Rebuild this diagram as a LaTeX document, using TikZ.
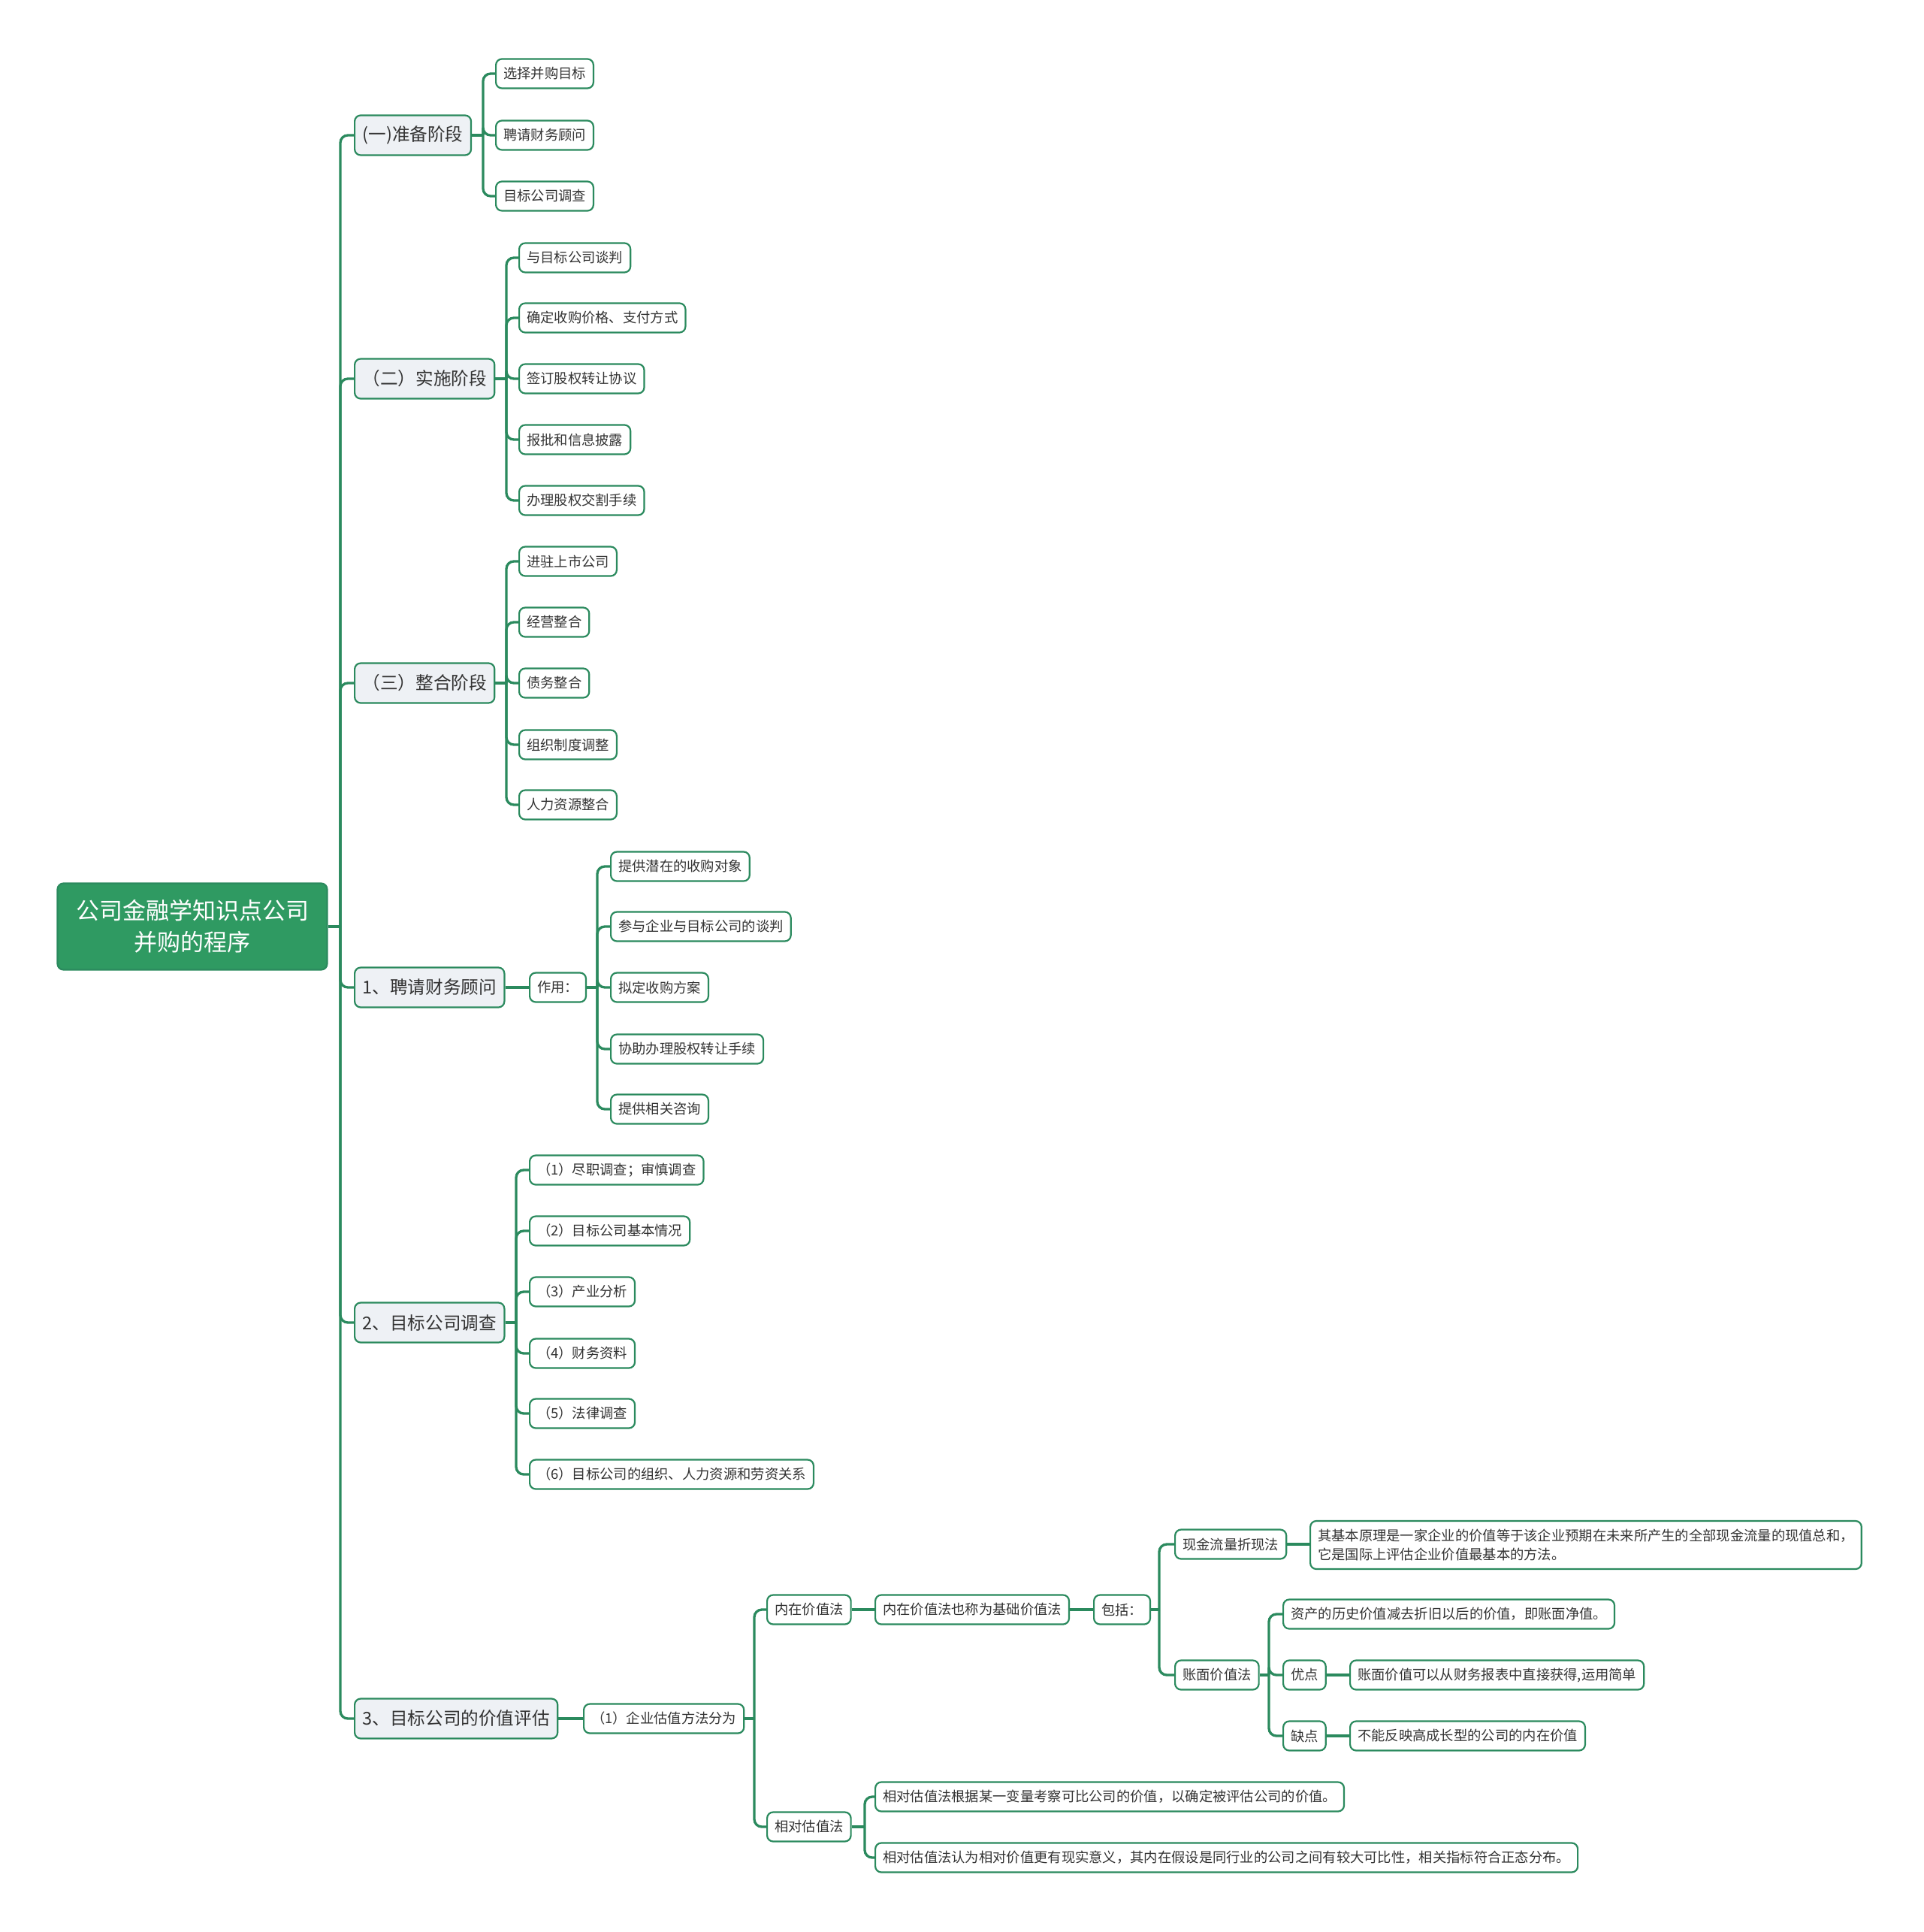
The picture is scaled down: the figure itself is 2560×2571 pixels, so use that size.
\documentclass[tikz,border=0pt]{standalone}
\usepackage{fontspec}
\setmainfont{Noto Sans CJK SC}
\definecolor{lc}{HTML}{2B8A5E}
\definecolor{rootfill}{HTML}{2F9A62}
\definecolor{lvfill}{HTML}{EEF1F5}
\definecolor{txt}{HTML}{333333}
\tikzset{
  conn/.style={draw=lc, line width=3.3pt},
  leaf/.style={draw=lc, line width=2.2pt, fill=white, rounded corners=8pt, minimum height=39pt,
    inner xsep=10pt, inner ysep=0pt, font=\fontsize{18.3}{25}\selectfont, anchor=west, text=txt},
  lvl/.style={leaf, fill=lvfill, minimum height=53pt, inner xsep=10.5pt, font=\fontsize{23.6}{28}\selectfont},
  rootbox/.style={draw=lc, line width=2.2pt, fill=rootfill, rounded corners=8pt, minimum width=359pt,
    minimum height=115pt, text=white, align=center, font=\fontsize{31}{42}\selectfont},
}
\newcommand\brn[3]{%
  \draw[conn] (#1.east) -- (#1.east -| #2);
  \foreach \cc in {#3}{\draw[conn, rounded corners=10pt] (#1.east -| #2) |- (\cc.west);}}
\begin{document}
\begin{tikzpicture}[x=1pt, y=-1pt]
\useasboundingbox (0,0) rectangle (2560,2571);
% root
\node[rootbox] (root) at (256,1233) {公司金融学知识点公司\\并购的程序};
% level 1
\node[lvl] (a) at (471,180) {(一)准备阶段};
\node[lvl] (b) at (471,504) {（二）实施阶段};
\node[lvl] (c) at (471,909) {（三）整合阶段};
\node[lvl] (d) at (471,1314) {1、聘请财务顾问};
\node[lvl] (e) at (471,1760) {2、目标公司调查};
\node[lvl] (f) at (471,2287) {3、目标公司的价值评估};
% group a
\node[leaf] (a1) at (659,98) {选择并购目标};
\node[leaf] (a2) at (659,180) {聘请财务顾问};
\node[leaf] (a3) at (659,261) {目标公司调查};
% group b
\node[leaf] (b1) at (690,343) {与目标公司谈判};
\node[leaf] (b2) at (690,423) {确定收购价格、支付方式};
\node[leaf] (b3) at (690,504) {签订股权转让协议};
\node[leaf] (b4) at (690,585) {报批和信息披露};
\node[leaf] (b5) at (690,666) {办理股权交割手续};
% group c
\node[leaf] (c1) at (690,747) {进驻上市公司};
\node[leaf] (c2) at (690,828) {经营整合};
\node[leaf] (c3) at (690,909) {债务整合};
\node[leaf] (c4) at (690,991) {组织制度调整};
\node[leaf] (c5) at (690,1071) {人力资源整合};
% group d
\node[leaf] (dz) at (704,1314) {作用：};
\node[leaf] (d1) at (812,1153) {提供潜在的收购对象};
\node[leaf] (d2) at (812,1233) {参与企业与目标公司的谈判};
\node[leaf] (d3) at (812,1314) {拟定收购方案};
\node[leaf] (d4) at (812,1396) {协助办理股权转让手续};
\node[leaf] (d5) at (812,1476) {提供相关咨询};
% group e
\node[leaf] (e1) at (704,1557) {（1）尽职调查；审慎调查};
\node[leaf] (e2) at (704,1638) {（2）目标公司基本情况};
\node[leaf] (e3) at (704,1719) {（3）产业分析};
\node[leaf] (e4) at (704,1801) {（4）财务资料};
\node[leaf] (e5) at (704,1881) {（5）法律调查};
\node[leaf] (e6) at (704,1962) {（6）目标公司的组织、人力资源和劳资关系};
% group f
\node[leaf] (f1) at (776,2287) {（1）企业估值方法分为};
\node[leaf] (g) at (1020,2142) {内在价值法};
\node[leaf] (h) at (1020,2431) {相对估值法};
\node[leaf] (g1) at (1164,2142) {内在价值法也称为基础价值法};
\node[leaf] (g2) at (1455,2142) {包括：};
\node[leaf] (k) at (1563,2055) {现金流量折现法};
\node[leaf, align=left, minimum height=64pt] (k1) at (1743,2056) {其基本原理是一家企业的价值等于该企业预期在未来所产生的全部现金流量的现值总和，\\它是国际上评估企业价值最基本的方法。};
\node[leaf] (m) at (1563,2229) {账面价值法};
\node[leaf] (m1) at (1707,2148) {资产的历史价值减去折旧以后的价值，即账面净值。};
\node[leaf] (m2) at (1707,2229) {优点};
\node[leaf] (m3) at (1707,2310) {缺点};
\node[leaf] (m2a) at (1796,2229) {账面价值可以从财务报表中直接获得,运用简单};
\node[leaf] (m3a) at (1796,2310) {不能反映高成长型的公司的内在价值};
\node[leaf] (h1) at (1164,2391) {相对估值法根据某一变量考察可比公司的价值，以确定被评估公司的价值。};
\node[leaf] (h2) at (1164,2472) {相对估值法认为相对价值更有现实意义，其内在假设是同行业的公司之间有较大可比性，相关指标符合正态分布。};
% bar coordinates
\coordinate (xT) at (453,0);
\coordinate (xa) at (643,0);
\coordinate (xb) at (674,0);
\coordinate (xd) at (795,0);
\coordinate (xe) at (687,0);
\coordinate (xf) at (1004,0);
\coordinate (xg) at (1543,0);
\coordinate (xm) at (1689,0);
\coordinate (xh) at (1151,0);
% connectors
\brn{root}{xT}{a,b,c,d,e,f}
\brn{a}{xa}{a1,a2,a3}
\brn{b}{xb}{b1,b2,b3,b4,b5}
\brn{c}{xb}{c1,c2,c3,c4,c5}
\draw[conn] (d.east) -- (dz.west);
\brn{dz}{xd}{d1,d2,d3,d4,d5}
\brn{e}{xe}{e1,e2,e3,e4,e5,e6}
\draw[conn] (f.east) -- (f1.west);
\brn{f1}{xf}{g,h}
\draw[conn] (g.east) -- (g1.west);
\draw[conn] (g1.east) -- (g2.west);
\brn{g2}{xg}{k,m}
\draw[conn] (k.east) -- (k.east -| k1.west);
\brn{m}{xm}{m1,m2,m3}
\draw[conn] (m2.east) -- (m2a.west);
\draw[conn] (m3.east) -- (m3a.west);
\brn{h}{xh}{h1,h2}
\end{tikzpicture}
\end{document}
